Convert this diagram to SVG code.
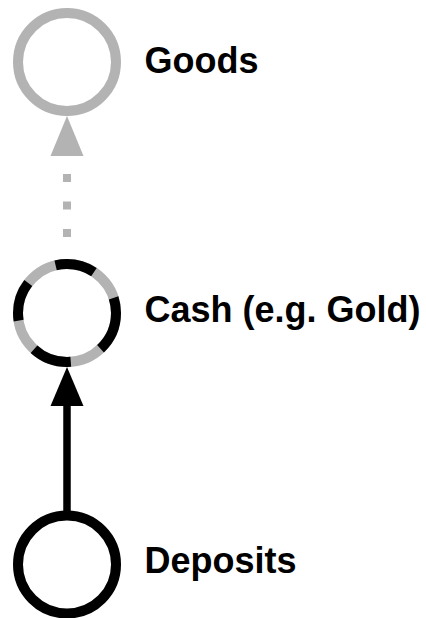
<svg xmlns="http://www.w3.org/2000/svg" width="426" height="618" viewBox="0 0 426 618">
  <style>
    .label { font-family: "Liberation Sans", Arial, sans-serif; font-weight: bold; font-size: 36px; fill: #000; }
    .ring { fill: #fff; stroke-width: 10; }
  </style>
  <rect width="426" height="618" fill="#fff"/>

  <!-- connectors -->
  <g id="connectors">
    <!-- Cash -> Goods (dotted, grey) -->
    <path d="M67,237 L67,155" stroke="#b3b3b3" stroke-width="8" stroke-dasharray="8 19.5" fill="none"/>
    <polygon points="67,116 83.5,156 50.5,156" fill="#b3b3b3"/>
    <!-- Deposits -> Cash (solid, black) -->
    <path d="M67,511 L67,400" stroke="#000" stroke-width="7.5" fill="none"/>
    <polygon points="67,367 83.5,406 50.5,406" fill="#000"/>
  </g>

  <g id="goods">
    <circle class="ring" cx="67" cy="62" r="49" stroke="#b3b3b3"/>
    <text class="label" x="144.5" y="72.5">Goods</text>
  </g>

  <g id="cash">
    <circle class="ring" cx="67" cy="313" r="49" stroke="#b3b3b3"/>
    <circle cx="67" cy="313" r="49" fill="none" stroke="#000" stroke-width="10" stroke-dasharray="40 33"/>
    <text class="label" x="144.5" y="322">Cash (e.g. Gold)</text>
  </g>

  <g id="deposits">
    <circle class="ring" cx="67" cy="564.5" r="49" stroke="#000"/>
    <text class="label" x="144.5" y="572.5">Deposits</text>
  </g>
</svg>
